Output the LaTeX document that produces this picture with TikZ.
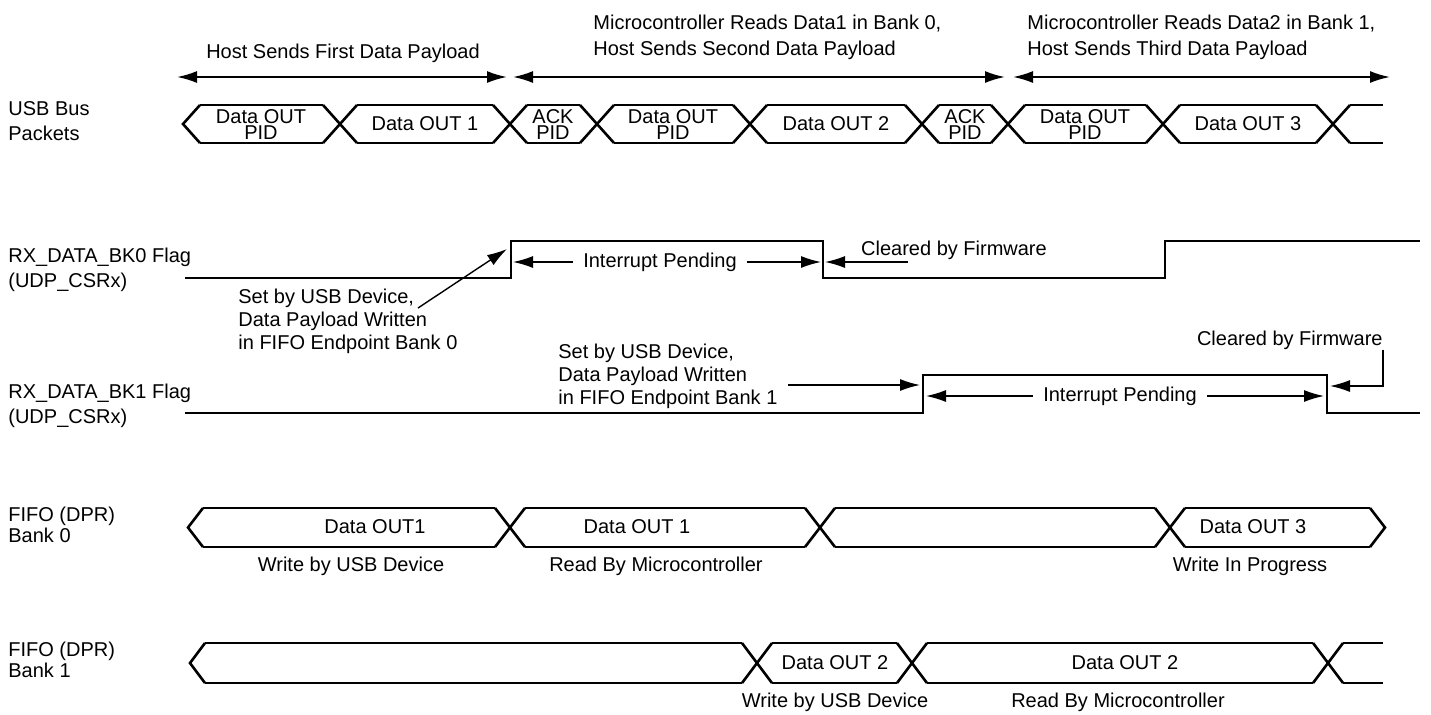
\documentclass[tikz,border=0pt]{standalone}
\usepackage{fontspec}
\setmainfont{Liberation Sans}
\usetikzlibrary{arrows.meta,positioning}

\begin{document}
\begin{tikzpicture}[x=0.5pt, y=-0.5pt,
  every node/.style={font=\fontsize{10}{12}\selectfont, inner sep=0pt},
  bus/.style={line width=1.3pt, line join=miter},
  sig/.style={line width=1pt},
  ann/.style={line width=0.7pt, -{Latex[length=10pt,width=6pt]}},
  span/.style={line width=1pt, {Latex[length=10pt,width=6pt]}-{Latex[length=10pt,width=6pt]}},
  pkt/.style={align=center, font=\fontsize{10}{8}\selectfont},
  rowlbl/.style={anchor=west, align=left, font=\fontsize{10}{12.5}\selectfont},
  banklbl/.style={anchor=west, align=left, font=\fontsize{10}{9}\selectfont},
  note/.style={align=left, font=\fontsize{10}{11.5}\selectfont},
  pend/.style={inner xsep=5pt}]
  \useasboundingbox (0,0) rectangle (1431,714);

  % Row labels
  \node[rowlbl] (usb) at (8,121) {USB Bus\\Packets};
  \node[rowlbl] (bk0) at (8,270) {RX\_DATA\_BK0 Flag\\(UDP\_CSRx)};
  \node[rowlbl] (bk1) at (8,406) {RX\_DATA\_BK1 Flag\\(UDP\_CSRx)};
  \node[banklbl] (fifo0) at (8,525) {FIFO (DPR)\\Bank 0};
  \node[banklbl] (fifo1) at (8,660) {FIFO (DPR)\\Bank 1};

  % Phases
  \node (ph1) at (343,53) {Host Sends First Data Payload};
  \node[anchor=west, align=left, font=\fontsize{10}{13}\selectfont] (ph2) at (593,37)
    {Microcontroller Reads Data1 in Bank 0,\\Host Sends Second Data Payload};
  \node[anchor=west, align=left, font=\fontsize{10}{13}\selectfont] (ph3) at (1027,37)
    {Microcontroller Reads Data2 in Bank 1,\\Host Sends Third Data Payload};
  \coordinate (ph1l) at (177,77);  \coordinate (ph1r) at (507,77);
  \coordinate (ph2l) at (513,77);  \coordinate (ph2r) at (1005,77);
  \coordinate (ph3l) at (1013,77); \coordinate (ph3r) at (1390,77);
  \draw[span] (ph1l) -- (ph1r);
  \draw[span] (ph2l) -- (ph2r);
  \draw[span] (ph3l) -- (ph3r);

  % USB bus packets
  \draw[bus] (200,105) -- (183,124) -- (200,143);
  \foreach \c in {340,510,597,750,922,1008,1163,1333}
    \draw[bus] (\c-17,105) -- (\c+17,143) (\c-17,143) -- (\c+17,105);
  \foreach \a/\b in {183/340,340/510,510/597,597/750,750/922,922/1008,1008/1163,1163/1333}
    \draw[bus] (\a+17,105) -- (\b-17,105) (\a+17,143) -- (\b-17,143);
  \draw[bus] (1350,105) -- (1383,105) (1350,143) -- (1383,143);
  \node[pkt] (pid1) at (261,125) {Data OUT\\PID};
  \node (out1) at (425,124) {Data OUT 1};
  \node[pkt] (ack1) at (553,125) {ACK\\PID};
  \node[pkt] (pid2) at (673,125) {Data OUT\\PID};
  \node (out2) at (836,124) {Data OUT 2};
  \node[pkt] (ack2) at (965,125) {ACK\\PID};
  \node[pkt] (pid3) at (1085,125) {Data OUT\\PID};
  \node (out3) at (1248,124) {Data OUT 3};

  % RX_DATA_BK0 flag
  \coordinate (r0lo) at (511,278); \coordinate (r0hi) at (511,241);
  \coordinate (f0hi) at (823,241); \coordinate (f0lo) at (823,278);
  \draw[sig] (185,278) -- (r0lo) -- (r0hi) -- (f0hi) -- (f0lo) -- (1165,278) -- (1165,241) -- (1420,241);
  \node[pend] (ip0) at (660,262) {Interrupt Pending};
  \coordinate (r0m) at (513,262); \coordinate (f0m) at (821,262);
  \draw[ann] (ip0) -- (r0m);
  \draw[ann] (ip0) -- (f0m);
  \node (clr0) at (954,250) {Cleared by Firmware};
  \coordinate (clr0s) at (908,262); \coordinate (f0c) at (825,262);
  \draw[ann] (clr0s) -- (f0c);
  \node[note, anchor=west] (set0) at (238,321)
    {Set by USB Device,\\Data Payload Written\\in FIFO Endpoint Bank 0};
  \coordinate (set0s) at (418,308); \coordinate (r0c) at (507,249);
  \draw[ann] (set0s) -- (r0c);

  % RX_DATA_BK1 flag
  \coordinate (r1lo) at (923,413); \coordinate (r1hi) at (923,375);
  \coordinate (f1hi) at (1327,375); \coordinate (f1lo) at (1327,413);
  \draw[sig] (185,413) -- (r1lo) -- (r1hi) -- (f1hi) -- (f1lo) -- (1420,413);
  \node[note, anchor=west] (set1) at (558,376)
    {Set by USB Device,\\Data Payload Written\\in FIFO Endpoint Bank 1};
  \coordinate (set1s) at (788,385); \coordinate (r1c) at (920,385);
  \draw[ann] (set1s) -- (r1c);
  \node[pend] (ip1) at (1120,396) {Interrupt Pending};
  \coordinate (r1m) at (926,396); \coordinate (f1m) at (1324,396);
  \draw[ann] (ip1) -- (r1m);
  \draw[ann] (ip1) -- (f1m);
  \node[anchor=east] (clr1) at (1383,340) {Cleared by Firmware};
  \coordinate (f1c) at (1330,386);
  \draw[ann] (clr1.south east) |- (f1c);

  % FIFO bank 0
  \draw[bus] (203,508) -- (188,527.5) -- (203,547);
  \foreach \c in {510,820,1170}
    \draw[bus] (\c-15,508) -- (\c+15,547) (\c-15,547) -- (\c+15,508);
  \foreach \a/\b in {188/510,510/820,820/1170,1170/1385}
    \draw[bus] (\a+15,508) -- (\b-15,508) (\a+15,547) -- (\b-15,547);
  \draw[bus] (1370,508) -- (1385,527.5) -- (1370,547);
  \node (b0d1) at (375,527) {Data OUT1};
  \node (b0d2) at (637,527) {Data OUT 1};
  \node (b0d3) at (1253,527) {Data OUT 3};
  \node (b0w) at (351,566) {Write by USB Device};
  \node (b0r) at (656,566) {Read By Microcontroller};
  \node (b0p) at (1250,566) {Write In Progress};

  % FIFO bank 1
  \draw[bus] (205,643) -- (190,663) -- (205,683);
  \foreach \c in {757,912,1328}
    \draw[bus] (\c-15,643) -- (\c+15,683) (\c-15,683) -- (\c+15,643);
  \foreach \a/\b in {190/757,757/912,912/1328}
    \draw[bus] (\a+15,643) -- (\b-15,643) (\a+15,683) -- (\b-15,683);
  \draw[bus] (1343,643) -- (1383,643) (1343,683) -- (1383,683);
  \node (b1d1) at (835,663) {Data OUT 2};
  \node (b1d2) at (1125,663) {Data OUT 2};
  \node (b1w) at (835,702) {Write by USB Device};
  \node (b1r) at (1118,702) {Read By Microcontroller};
\end{tikzpicture}
\end{document}
